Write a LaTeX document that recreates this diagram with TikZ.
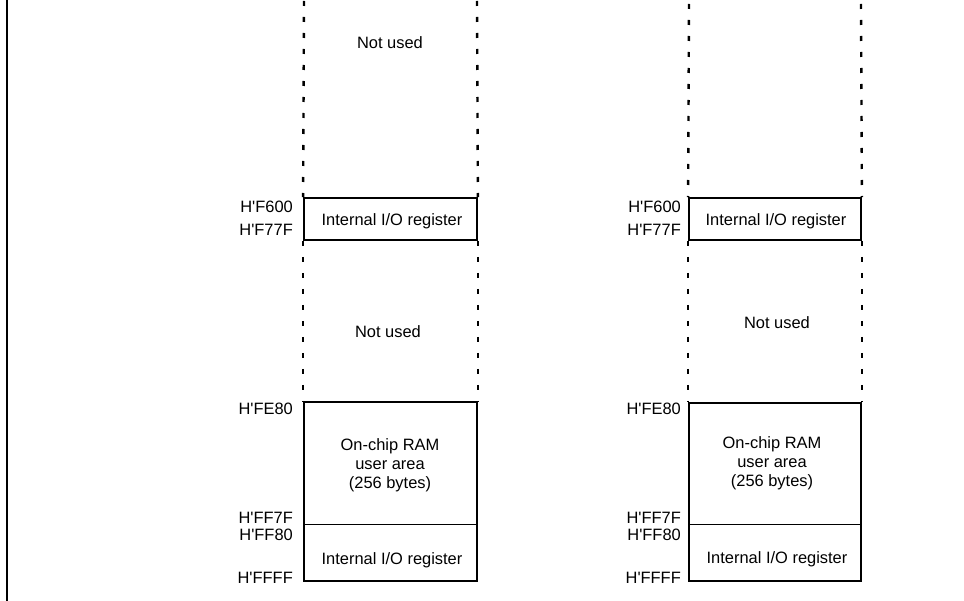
\documentclass[tikz,border=0pt]{standalone}
\usepackage{fontspec}
\setmainfont{Liberation Sans}
% straight apostrophe in the hexadecimal addresses
\newcommand{\hx}[1]{H\textquotesingle #1}
\begin{document}
\begin{tikzpicture}[x=1bp,y=-1bp,
  every node/.style={font=\fontsize{16.5}{19}\selectfont, inner sep=0pt},
  region/.style={draw, line width=1.8bp, minimum width=173bp},
  gapline/.style={line width=2.4bp, dash pattern=on 5bp off 11bp},
  divider/.style={line width=0.9bp},
  addr/.style={anchor=base east},
  lbl/.style={anchor=base},
  ramtext/.style={align=center}]
\useasboundingbox (0,0) rectangle (964,601);

% frame edge on the left
\draw[line width=2bp] (7,0) -- (7,601);

% ---------------- left memory map ----------------
\coordinate (aTL) at (304,1);
\coordinate (aTR) at (477,1);
\node[region, minimum height=42bp] (ioA) at (390.5,219) {};
\node[region, minimum height=179bp] (ramA) at (390.5,491.5) {};
\coordinate (divAL) at (304,524);
\coordinate (divAR) at (477,524);
\draw[divider] (divAL) -- (divAR);

\draw[gapline] (aTL) -- (ioA.north west);
\draw[gapline] (aTR) -- (ioA.north east);
\draw[gapline] (ioA.south west) -- (ramA.north west);
\draw[gapline] (ioA.south east) -- (ramA.north east);

\node[lbl] (nuA1) at (390,49) {Not used};
\node[lbl] (ioAtxt) at (392,226) {Internal I/O register};
\node[lbl] (nuA2) at (388,337) {Not used};
\node[ramtext] (ramAtxt) at (390,465.5) {On-chip RAM\\user area\\(256 bytes)};
\node[lbl] (regAtxt) at (392,564) {Internal I/O register};

\node[addr] (a1) at (293,213) {\hx{F600}};
\node[addr] (a2) at (293,236) {\hx{F77F}};
\node[addr] (a3) at (293,414) {\hx{FE80}};
\node[addr] (a4) at (293,523) {\hx{FF7F}};
\node[addr] (a5) at (293,540) {\hx{FF80}};
\node[addr] (a6) at (293,583) {\hx{FFFF}};

% ---------------- right memory map ----------------
\coordinate (bTL) at (689,4);
\coordinate (bTR) at (861,4);
\node[region, minimum width=172bp, minimum height=42bp] (ioB) at (775,219) {};
\node[region, minimum width=172bp, minimum height=178bp] (ramB) at (775,492) {};
\coordinate (divBL) at (689,524);
\coordinate (divBR) at (861,524);
\draw[divider] (divBL) -- (divBR);

\draw[gapline] (bTL) -- (ioB.north west);
\draw[gapline] (bTR) -- (ioB.north east);
\draw[gapline] (ioB.south west) -- (ramB.north west);
\draw[gapline] (ioB.south east) -- (ramB.north east);

\node[lbl] (ioBtxt) at (776,226) {Internal I/O register};
\node[lbl] (nuB) at (777,328) {Not used};
\node[ramtext] (ramBtxt) at (772,463.5) {On-chip RAM\\user area\\(256 bytes)};
\node[lbl] (regBtxt) at (777,563) {Internal I/O register};

\node[addr] (b1) at (681,213) {\hx{F600}};
\node[addr] (b2) at (681,236) {\hx{F77F}};
\node[addr] (b3) at (681,414) {\hx{FE80}};
\node[addr] (b4) at (681,523) {\hx{FF7F}};
\node[addr] (b5) at (681,540) {\hx{FF80}};
\node[addr] (b6) at (681,583) {\hx{FFFF}};
\end{tikzpicture}
\end{document}
